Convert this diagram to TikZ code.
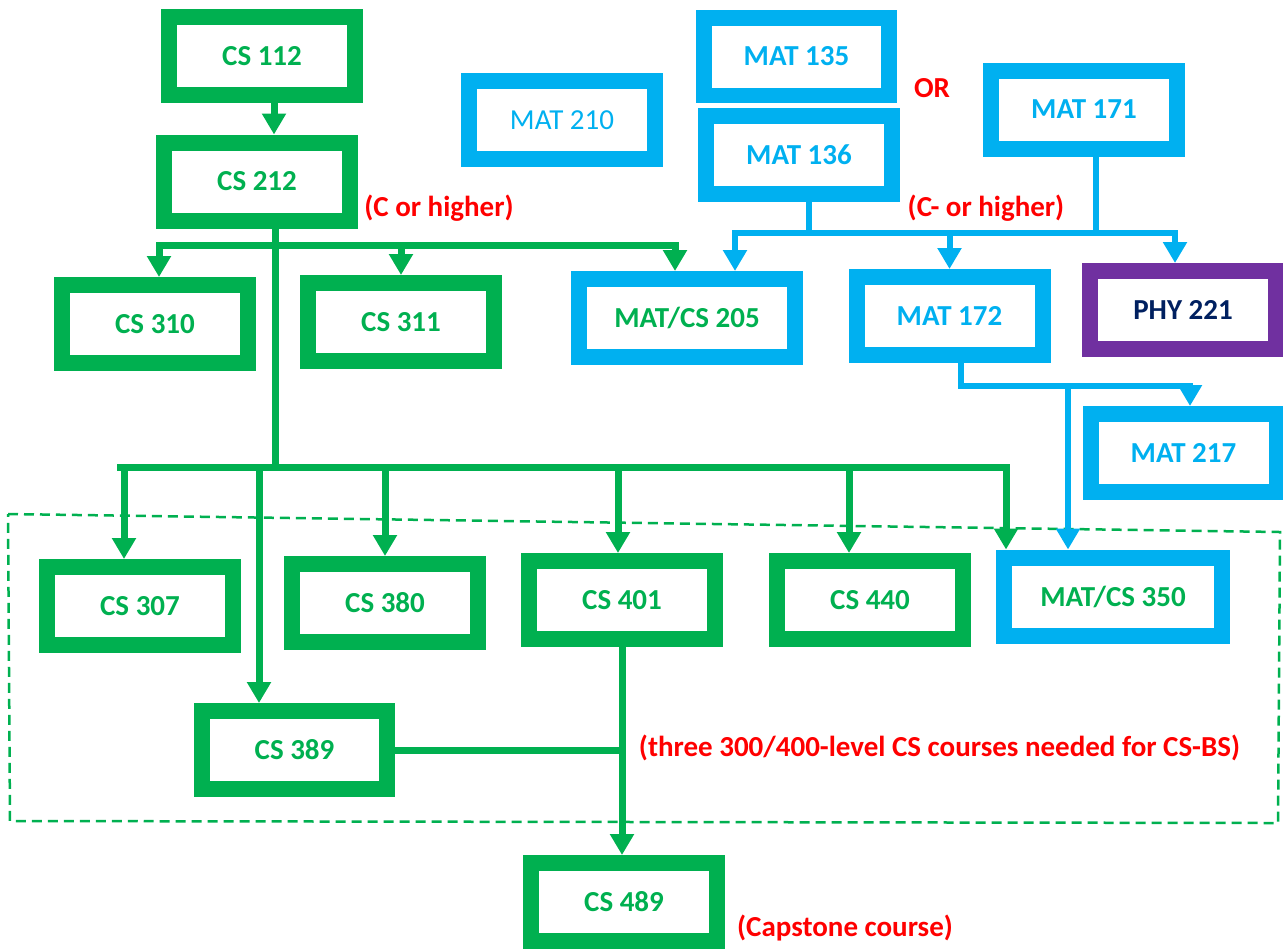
\documentclass[tikz,border=0pt]{standalone}
\usepackage{fontspec}
\setmainfont{Carlito}
\usetikzlibrary{arrows.meta}
\definecolor{cgreen}{HTML}{00B050}
\definecolor{cblue}{HTML}{00B0F0}
\definecolor{cpurple}{HTML}{7030A0}
\definecolor{cnavy}{HTML}{002060}
\definecolor{cred}{HTML}{FF0000}
\begin{document}
\begin{tikzpicture}[x=0.02cm, y=-0.02cm,
		every node/.style={font=\fontsize{16.5}{18}\selectfont\bfseries},
		course/.style={draw, line width=0.32cm, inner sep=0pt, outer sep=0.16cm, minimum width=3.72cm, minimum height=1.56cm},
		gbox/.style={course, draw=cgreen, text=cgreen},
		bbox/.style={course, draw=cblue, text=cblue},
		gline/.style={draw=cgreen, line width=0.14cm},
		bline/.style={draw=cblue, line width=0.12cm},
		tip/.style={-{Triangle[width=0.46cm,length=0.42cm]}},
		tips/.style={{Triangle[width=0.46cm,length=0.42cm]}-{Triangle[width=0.46cm,length=0.42cm]}},
		note/.style={text=cred}]
		\useasboundingbox (0,0) rectangle (1283,948);
		
		% optional block
		\draw[cgreen, line width=0.05cm, dash pattern=on 0.2cm off 0.12cm] (8,514) -- (1280,532) -- (1278,823) -- (10,821) -- cycle;
		
		\node[gbox] (cs112) at (262,56) {CS 112};
		\node[gbox] (cs212) at (257,181.5) {CS 212};
		\node[bbox, font=\fontsize{16.5}{18}\selectfont] (mat210) at (562,120) {MAT 210};
		\node[bbox] (mat135) at (796.5,56.5) {MAT 135};
		\node[bbox] (mat136) at (799,154.5) {MAT 136};
		\node[bbox] (mat171) at (1084,109.5) {MAT 171};
		
		\node[gbox] (cs310) at (155,324) {CS 310};
		\node[gbox] (cs311) at (401,322) {CS 311};
		\node[bbox, text=cgreen, minimum width=4.32cm] (mat205) at (687,318) {MAT/CS 205};
		\node[bbox] (mat172) at (949.5,316) {MAT 172};
		\node[course, draw=cpurple, text=cnavy] (phy221) at (1183,310) {PHY 221};
		\node[bbox] (mat217) at (1183.5,453) {MAT 217};
		
		\node[gbox] (cs307) at (140,606) {CS 307};
		\node[gbox] (cs380) at (385,603) {CS 380};
		\node[gbox] (cs401) at (622,600) {CS 401};
		\node[gbox] (cs440) at (870,600) {CS 440};
		\node[bbox, text=cgreen, minimum width=4.36cm] (mat350) at (1113,596.5) {MAT/CS 350};
		\node[gbox] (cs389) at (294.5,750) {CS 389};
		\node[gbox] (cs489) at (624,902) {CS 489};
		
		\node[note] (grade1) at (439,208) {(C or higher)};
		\node[note] (or) at (932,88) {OR};
		\node[note] (grade2) at (986,208) {(C- or higher)};
		\node[note] (three) at (939.5,748) {(three 300/400-level CS courses needed for CS-BS)};
		\node[note] (capstone) at (845,928) {(Capstone course)};
		
		% green joints
		\coordinate (trunk) at (275,467);
		\coordinate (g1L) at (159,245);
		\coordinate (g1R) at (675,245);
		\coordinate (g2L) at (117,467);
		\coordinate (g2R) at (1010,467);
		\coordinate (d307) at (124,467);
		\coordinate (d389) at (259,467);
		\coordinate (d401) at (618,467);
		\coordinate (d440) at (849,467);
		\coordinate (d350) at (1006,467);
		
		% blue joints
		\coordinate (j136) at (809,233);
		\coordinate (j171) at (1096,233);
		\coordinate (bL) at (735,233);
		\coordinate (bR) at (1175,233);
		\coordinate (k172) at (961,386);
		\coordinate (k217) at (1190,386);
		\coordinate (k350) at (1068,386);
		
		\draw[gline, tip] ([xshift=0.24cm]cs112.south) -- ([xshift=0.24cm]cs112.south |- cs212.north);
		\draw[gline] (cs212.south -| trunk) -- (trunk);
		\draw[gline, tips] (g1L |- cs310.north) -- (g1L) -- (g1R) -- (g1R |- mat205.north);
		\draw[gline, tip] (cs311.north |- g1L) -- (cs311.north);
		\draw[gline] (g2L) -- (g2R);
		\draw[gline, tip] (d307) -- (d307 |- cs307.north);
		\draw[gline, tip] (d389) -- (d389 |- cs389.north);
		\draw[gline, tip] (cs380.north |- trunk) -- (cs380.north);
		\draw[gline, tip] (d401) -- (d401 |- cs401.north);
		\draw[gline, tip] (d440) -- (d440 |- cs440.north);
		\draw[gline, tip] (d350) -- (d350 |- mat350.north);
		\draw[gline, tip] (cs401.south) -- (cs401.south |- cs489.north);
		\draw[gline] (cs389.east) -- (cs389.east -| cs401.south);
		
		\draw[bline] (mat136.south -| j136) -- (j136);
		\draw[bline] (mat171.south -| j171) -- (j171);
		\draw[bline, tips] (bL |- mat205.north) -- (bL) -- (bR) -- (bR |- phy221.north);
		\draw[bline, tip] (mat172.north |- bL) -- (mat172.north);
		\draw[bline, tip] (mat172.south -| k172) -- (k172) -- (k217) -- (k217 |- mat217.north);
		\draw[bline, tip] (k350) -- (k350 |- mat350.north);
		
	\end{tikzpicture}
\end{document}
